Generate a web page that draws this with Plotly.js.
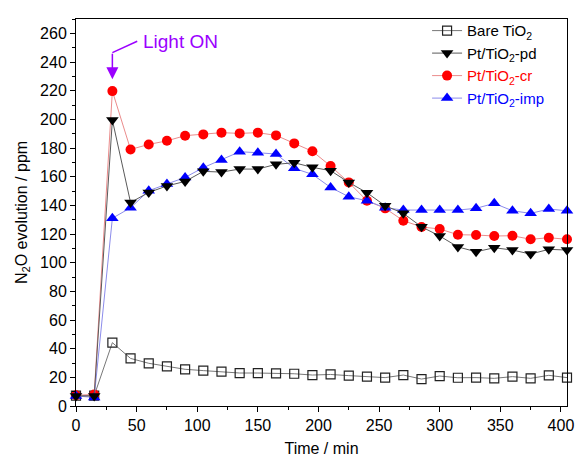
<!DOCTYPE html>
<html>
<head>
<meta charset="utf-8">
<script src="https://cdn.plot.ly/plotly-3.0.1.min.js"></script>
<style>html,body{margin:0;padding:0;background:#fff;}#chart{width:576px;height:462px;}</style>
</head>
<body>
<div id="chart"></div>
<script>
const time = [0,15,30,45,60,75,90,105,120,135,150,165,180,195,210,225,240,255,270,285,300,315,330,345,360,375,390,405];
const bareTiO2 = [7.2,7.2,44.2,33.2,29.8,27.7,25.6,24.7,24.0,23.0,23.0,22.8,22.5,21.6,22.0,21.2,20.5,19.8,21.6,18.8,20.9,19.7,19.8,19.3,20.5,19.3,21.4,19.8];
const ptPd = [7,7,199.5,142,149,153.5,156.7,163.7,163.2,165.3,165.3,168.6,169.7,166.5,164.2,156,148.8,139.7,134.4,125,118.6,111,107.6,110.4,108.8,106,109.3,108.8];
const ptCr = [7.5,8,219.7,179,182.5,185,188.6,189.5,190.7,190.2,190.7,188.8,183.2,177.7,167.4,156,143.2,137.9,129.3,124.9,123.5,119.5,119.3,118.6,118.8,116.3,117.4,116.3];
const ptImp = [7,6,131,138.3,150.2,154.9,159.5,166.3,171.6,177.4,176.7,175.8,165.8,161.6,152.5,146,143.2,138.3,136.7,136.7,136.7,136.7,137.9,141.4,136.2,134.4,137.4,136.2];
const names = ['Bare TiO<sub>2</sub>','Pt/TiO<sub>2</sub>-pd','<span style="color:#ff0000">Pt/TiO<sub>2</sub>-cr</span>','<span style="color:#0000ff">Pt/TiO<sub>2</sub>-imp</span>'];

const traces = [
  {x: time, y: bareTiO2, name: names[0], mode: 'lines+markers', legendrank: 1,
   line: {color: 'rgb(120,120,120)', width: 1},
   marker: {symbol: 'square-open', size: 9, color: '#222', line: {width: 1.2, color: '#222'}}, cliponaxis: false},
  {x: time, y: ptCr, name: names[2], mode: 'lines+markers', legendrank: 3,
   line: {color: 'rgb(235,140,140)', width: 1},
   marker: {symbol: 'circle', size: 10, color: '#ff0000'}, cliponaxis: false},
  {x: time, y: ptImp, name: names[3], mode: 'lines+markers', legendrank: 4,
   line: {color: 'rgb(140,140,235)', width: 1},
   marker: {symbol: 'triangle-up', size: 11, color: '#0000ff'}, cliponaxis: false},
  {x: time, y: ptPd, name: names[1], mode: 'lines+markers', legendrank: 2,
   line: {color: 'rgb(90,90,90)', width: 1},
   marker: {symbol: 'triangle-down', size: 11, color: '#000000'}, cliponaxis: false}
];

const purple = '#9b00ff';
const layout = {
  width: 576, height: 462,
  margin: {l: 76, r: 9, t: 19, b: 56},
  paper_bgcolor: '#fff', plot_bgcolor: '#fff',
  font: {family: 'Liberation Sans, Arial, sans-serif', size: 16, color: '#000'},
  showlegend: true,
  legend: {x: 0.715, y: 1.012, xanchor: 'left', yanchor: 'top', bgcolor: 'rgba(0,0,0,0)',
           font: {size: 15}, tracegroupgap: 0, itemwidth: 30},
  xaxis: {range: [0, 405], showgrid: false, zeroline: false, showline: true, linecolor: '#000', linewidth: 1,
          mirror: true, ticks: 'outside', ticklen: 5, tickcolor: '#000', dtick: 50, tick0: 0,
          minor: {dtick: 25, ticklen: 3, ticks: 'outside', tickcolor: '#000'},
          tickfont: {size: 16},
          title: {text: 'Time / min', font: {size: 16}, standoff: 9}},
  yaxis: {range: [0, 270], showgrid: false, zeroline: false, showline: true, linecolor: '#000', linewidth: 1,
          mirror: true, ticks: 'outside', ticklen: 5, tickcolor: '#000', dtick: 20, tick0: 0,
          minor: {dtick: 10, ticklen: 3, ticks: 'outside', tickcolor: '#000'},
          tickfont: {size: 16},
          title: {text: 'N<sub>2</sub>O evolution / ppm', font: {size: 16}, standoff: 8}},
  shapes: [
    {type: 'line', xref: 'x', yref: 'y', x0: 30, y0: 246.5, x1: 50.5, y1: 254.5,
     line: {color: purple, width: 1.5}}
  ],
  annotations: [
    {xref: 'x', yref: 'y', x: 30, y: 228, ax: 0, ay: -27, axref: 'pixel', ayref: 'pixel',
     showarrow: true, arrowhead: 2, arrowsize: 1.6, arrowwidth: 1.5, arrowcolor: purple, text: ''},
    {xref: 'x', yref: 'y', x: 54, y: 254.5, xanchor: 'left', yanchor: 'middle', showarrow: false,
     text: 'Light ON', font: {size: 19, color: purple}}
  ]
};

Plotly.newPlot('chart', traces, layout, {displayModeBar: false, staticPlot: true});
</script>
</body>
</html>
